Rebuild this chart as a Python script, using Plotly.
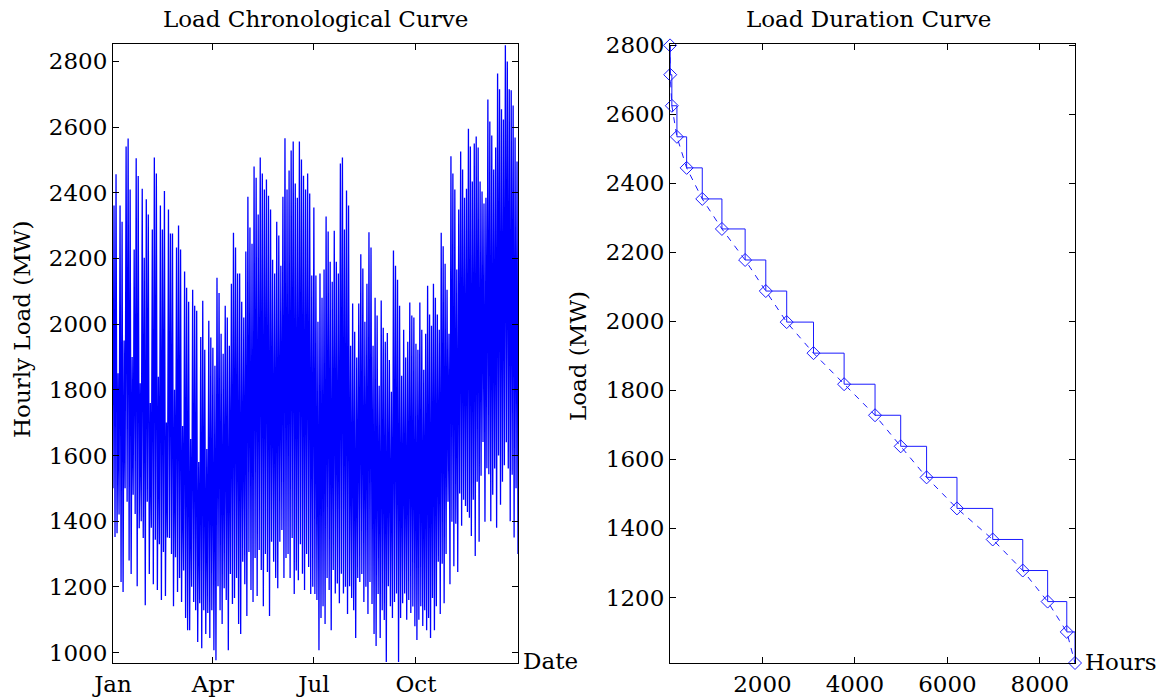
import numpy as np
import pandas as pd
import plotly.graph_objects as go

# ---------------- data ----------------
# Hourly load swings (MW), read quarter by quarter, in time order
q1_load = [1500, 2361, 1352, 2456, 1363, 1850, 1420, 2361, 1215, 2312, 1184, 1950, 1500, 2541,
           1459, 2565, 1280, 2410, 1239, 1900, 1480, 2227, 1422, 2505, 1202, 2451, 1378, 1820,
           1400, 2412, 1349, 2202, 1144, 2380, 1459, 2334, 1239, 1760, 1380, 2288, 1208, 2507,
           1343, 2459, 1190, 1840, 1330, 2361, 1160, 2288, 1306, 2405, 1172, 1700, 1350, 2349,
           1349, 2276, 1300, 2276, 1141, 1800, 1290, 2233, 1184, 2300, 1227, 2227, 1154, 1690,
           1250, 2160, 1105, 2111, 1068, 2068, 1068, 1650, 1200, 2105, 1154, 2056, 1129, 2041,
           1032, 1580, 1150, 1961, 1013, 2071, 1129, 1922, 1056, 1620, 1120, 2010, 1044, 1959,
           1129, 1873]
q2_load = [1928, 1007, 1873, 976, 2141, 1202, 2095, 1129, 1971, 1087, 1910, 1196, 2056, 1160,
           2020, 1007, 1934, 1239, 2123, 1148, 2278, 1166, 2233, 1227, 2154, 1087, 2154, 1056,
           2068, 1276, 2020, 1208, 2221, 1111, 2388, 1306, 2294, 1190, 2245, 1154, 2480, 1288,
           2446, 1172, 2334, 1312, 2507, 1251, 2459, 1141, 2410, 1300, 2440, 1245, 2391, 1111,
           2349, 1337, 2196, 1276, 2154, 1227, 2312, 1196, 2270, 1337, 2178, 1373, 2388, 1227,
           2566, 1288, 2410, 1300, 2468, 1227, 2529, 1349, 2556, 1178, 2428, 1250, 2385, 1220,
           2556, 1330, 2501, 1240, 2452, 1190, 2410, 1300, 2459, 1260, 2398, 1178, 2148, 1200,
           2129]
q3_load = [2355, 1178, 2148, 1160, 2007, 1007, 2154, 1105, 2080, 1141, 2166, 1087, 2328, 1227,
           2282, 1190, 2190, 1068, 2129, 1251, 2284, 1180, 2190, 1210, 2154, 1150, 2489, 1240,
           2507, 1180, 2288, 1200, 2407, 1117, 2361, 1202, 1934, 1166, 2063, 1129, 1977, 1044,
           1898, 1227, 2063, 1215, 2213, 1239, 2169, 1154, 2007, 1200, 2123, 1117, 2280, 1215,
           2233, 1148, 1934, 1056, 2080, 1020, 2026, 1178, 1812, 1044, 2072, 1129, 1989, 1099,
           1946, 971, 1973, 1202, 1891, 1141, 1794, 1105, 2224, 1154, 2178, 1180, 2135, 971,
           2056, 1105, 1843, 1150, 1983, 1180, 1898, 1100, 1946, 1160, 2066, 1120, 2026, 1140,
           2020, 1080, 1920]
q4_load = [1940, 1038, 1922, 1100, 2066, 1141, 1983, 1081, 1861, 1129, 1971, 1068, 2117, 1105,
           2029, 1044, 1995, 1166, 2123, 1068, 2080, 1141, 2029, 1276, 1983, 1117, 2278, 1270,
           2237, 1150, 2184, 1300, 2105, 1459, 1971, 1208, 2511, 1398, 2459, 1263, 2410, 1392,
           2166, 1245, 2349, 1484, 2526, 1386, 2471, 1465, 2385, 1446, 2412, 1428, 2595, 1410,
           2541, 1355, 2434, 1465, 2550, 1294, 2571, 1520, 2538, 1337, 2434, 1538, 2404, 1641,
           2367, 1398, 2385, 1561, 2684, 1543, 2617, 1400, 2574, 1480, 2471, 1560, 2538, 1380,
           2763, 1600, 2715, 1450, 2654, 1520, 2623, 1570, 2849, 1640, 2800, 1560, 2715, 1400,
           2712, 1541, 2666, 1350, 2568, 1500, 2495, 1300]

quarter_starts = ["2013-01-01", "2013-04-01", "2013-07-01", "2013-10-01", "2014-01-01"]
month_ticks = ["2013-01-01", "2013-04-01", "2013-07-01", "2013-10-01"]
month_labels = ["Jan", "Apr", "Jul", "Oct"]

# Load duration curve: hours at/above level, load level (MW)
ldc_hours = [1, 5, 40, 150, 360, 698, 1123, 1625, 2072, 2524, 3104, 3766, 4435, 4990,
             5550, 6207, 6980, 7630, 8168, 8582, 8760]
ldc_load = [2800, 2715, 2625, 2535, 2445, 2355, 2268, 2178, 2088, 1998, 1908, 1818, 1728,
            1638, 1548, 1458, 1368, 1278, 1188, 1100, 1010]

left_yticks = [1000, 1200, 1400, 1600, 1800, 2000, 2200, 2400, 2600, 2800]
right_yticks = [1200, 1400, 1600, 1800, 2000, 2200, 2400, 2600, 2800]
right_xticks = [2000, 4000, 6000, 8000]

# ---------------- build figure ----------------
W, H = 1161, 698
FONT = "DejaVu Serif"

times, loads = [], []
quarters = [q1_load, q2_load, q3_load, q4_load]
for vals, a, b in zip(quarters, quarter_starts[:-1], quarter_starts[1:]):
    t0 = pd.Timestamp(a)
    t1 = pd.Timestamp(b) - pd.Timedelta(hours=1)
    times.extend(pd.date_range(t0, t1, periods=len(vals)))
    loads.extend(vals)

fig = go.Figure()
fig.add_trace(go.Scatter(x=times, y=loads, mode="lines",
                         line=dict(color="#0000ff", width=1.3),
                         xaxis="x", yaxis="y", hoverinfo="skip"))
fig.add_trace(go.Scatter(x=ldc_hours, y=ldc_load, mode="lines",
                         line=dict(color="#1a1aff", width=1, shape="hv"),
                         xaxis="x2", yaxis="y2", cliponaxis=False))
fig.add_trace(go.Scatter(x=ldc_hours, y=ldc_load, mode="lines+markers",
                         line=dict(color="#1a1aff", width=1, dash="6px,6px"),
                         marker=dict(symbol="diamond-open", size=10,
                                     line=dict(color="#1a1aff", width=1)),
                         xaxis="x2", yaxis="y2", cliponaxis=False))

def px_x(p):
    return p / W

def px_y(p):
    return 1 - p / H

axis_common = dict(showline=True, linecolor="black", linewidth=1, mirror="ticks",
                   ticks="inside", ticklen=6, tickcolor="black", showgrid=False,
                   zeroline=False, automargin=False,
                   tickfont=dict(family=FONT, size=23, color="black"))

ydom = [px_y(663), px_y(44)]
fig.update_layout(
    width=W, height=H, margin=dict(l=0, r=0, t=0, b=0, autoexpand=False),
    paper_bgcolor="white", plot_bgcolor="white", showlegend=False,
    font=dict(family=FONT, size=23, color="black"),
    xaxis=dict(domain=[px_x(113), px_x(518)], type="date",
               range=["2013-01-01 00:00", "2013-12-31 23:00"],
               tickvals=month_ticks, ticktext=month_labels, anchor="y", **axis_common),
    yaxis=dict(domain=ydom, range=[968, 2853], tickvals=left_yticks, anchor="x",
               **axis_common),
    xaxis2=dict(domain=[px_x(670), px_x(1075)], range=[0, 8760], tickvals=right_xticks,
                anchor="y2", **axis_common),
    yaxis2=dict(domain=ydom, range=[1010, 2804], tickvals=right_yticks, anchor="x2",
                **axis_common),
)

ann = []
ann.append(dict(text="Load Chronological Curve", x=px_x(315), y=px_y(19),
                xref="paper", yref="paper", showarrow=False, xanchor="center",
                yanchor="middle", font=dict(family=FONT, size=23)))
ann.append(dict(text="Load Duration Curve", x=px_x(868), y=px_y(19),
                xref="paper", yref="paper", showarrow=False, xanchor="center",
                yanchor="middle", font=dict(family=FONT, size=23)))
ann.append(dict(text="Hourly Load (MW)", x=px_x(22), y=px_y(330), textangle=-90,
                xref="paper", yref="paper", showarrow=False, xanchor="center",
                yanchor="middle", font=dict(family=FONT, size=23)))
ann.append(dict(text="Load (MW)", x=px_x(578), y=px_y(356), textangle=-90,
                xref="paper", yref="paper", showarrow=False, xanchor="center",
                yanchor="middle", font=dict(family=FONT, size=23)))
ann.append(dict(text="Date", x=px_x(521), y=px_y(661),
                xref="paper", yref="paper", showarrow=False, xanchor="left",
                yanchor="middle", font=dict(family=FONT, size=23)))
ann.append(dict(text="Hours", x=px_x(1083), y=px_y(662),
                xref="paper", yref="paper", showarrow=False, xanchor="left",
                yanchor="middle", font=dict(family=FONT, size=23)))
fig.update_layout(annotations=ann)

fig.write_html("out.html")
